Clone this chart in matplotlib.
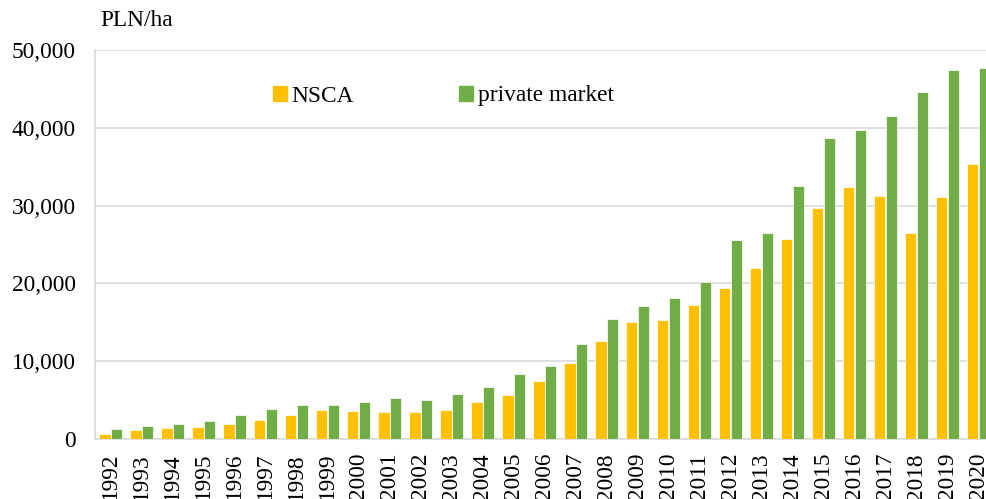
import numpy as np
import matplotlib.pyplot as plt
from matplotlib.patches import Patch

plt.rcParams['font.family'] = ['Liberation Serif', 'DejaVu Serif']

years = [str(y) for y in range(1992, 2021)]
nsca = [600, 1120, 1410, 1540, 1890, 2480, 3085, 3730, 3640, 3470,
        3470, 3770, 4710, 5650, 7410, 9810, 12640, 15040, 15340, 17220,
        19370, 21940, 25710, 29690, 32390, 31190, 26480, 31150, 35390]
private_market = [1250, 1630, 1930, 2310, 3050, 3820, 4410, 4410, 4800, 5230,
                  5050, 5780, 6680, 8310, 9340, 12210, 15420, 17100, 18120, 20140,
                  25540, 26440, 32480, 38690, 39760, 41480, 44560, 47390, 47730]

yellow = '#FFC000'
green = '#70AD47'
fs = 16.8

fig = plt.figure(figsize=(9.86, 4.99), dpi=100)
# axes runs a little past the right edge, the last bar gets clipped
ax = fig.add_axes([95 / 986, 1 - 439 / 499, 899 / 986, 389 / 499])

x = np.arange(len(years))
w = 0.38
ax.bar(x - w / 2, nsca, w, color=yellow, edgecolor='white', linewidth=0.5, zorder=3)
ax.bar(x + w / 2, private_market, w, color=green, edgecolor='white', linewidth=0.5, zorder=3)

ax.set_xlim(-0.5, len(years) - 0.5)
ax.set_ylim(0, 50000)
ax.set_yticks(range(0, 50001, 10000))
ax.set_yticklabels([f'{v:,}' for v in range(0, 50001, 10000)], fontsize=fs)
ax.set_xticks(x)
ax.set_xticklabels(years, rotation=90, fontsize=fs)
ax.tick_params(axis='both', length=0)
ax.tick_params(axis='y', pad=14)
ax.tick_params(axis='x', pad=10)

ax.grid(axis='y', color='#d9d9d9', linewidth=1.2, zorder=0)
for side in ['top', 'right']:
    ax.spines[side].set_visible(False)
for side in ['left', 'bottom']:
    ax.spines[side].set_color('#d9d9d9')
    ax.spines[side].set_linewidth(1.2)

fig.text(100 / 986, 1 - 21 / 499, 'PLN/ha', fontsize=fs, va='center', ha='left')

handles = [Patch(color=yellow, label='NSCA'), Patch(color=green, label='private market')]
ax.legend(handles=handles, ncol=2, frameon=False, fontsize=fs,
          loc='center left', bbox_to_anchor=((273 - 95) / 899, (440 - 97) / 389),
          handlelength=0.6, handleheight=0.6, handletextpad=0.2,
          columnspacing=4.5, borderaxespad=0, borderpad=0)

fig.savefig('out.png', dpi=100)
